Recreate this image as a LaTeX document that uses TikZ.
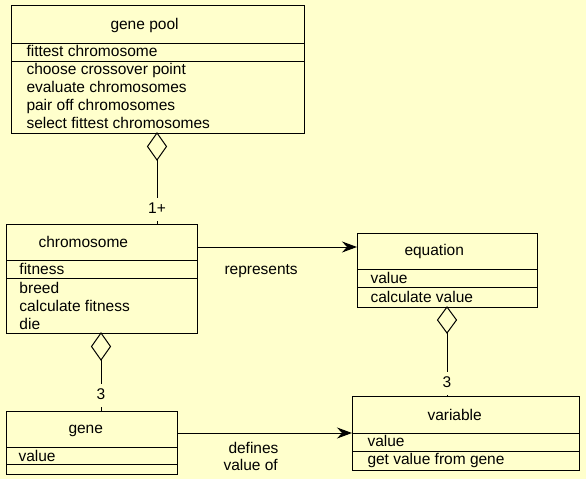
\documentclass[tikz,border=0pt]{standalone}
\usepackage{fontspec}
\setmainfont{Liberation Sans}
\usetikzlibrary{arrows.meta}
\definecolor{bg}{HTML}{FFFFCC}
\begin{document}
\begin{tikzpicture}[x=1pt,y=-1pt,line width=1pt,
  cls/.style={draw=black,inner sep=0pt,outer sep=0pt},
  txt/.style={anchor=base west,inner sep=0pt,font=\fontsize{15.5}{18}\selectfont},
  mult/.style={fill=bg,anchor=base,inner xsep=2pt,inner ysep=5pt,text height=10pt,text depth=3pt,font=\fontsize{15.5}{18}\selectfont},
  agg/.style={draw=black,fill=bg,line join=miter},
  assoc/.style={-{Stealth[length=15pt,width=11pt,inset=5pt]}}]
\useasboundingbox (0,0) rectangle (586,479);
\fill[bg] (0,0) rectangle (586,479);

% class boxes
\node[cls,minimum width=293pt,minimum height=128pt] (pool) at (157.5,69) {};
\node[cls,minimum width=191pt,minimum height=109pt] (chrom) at (101.5,278.5) {};
\node[cls,minimum width=180pt,minimum height=74pt] (eq) at (447,270) {};
\node[cls,minimum width=227pt,minimum height=74pt] (var) at (465.5,433) {};
\node[cls,minimum width=171pt,minimum height=63pt] (gene) at (91.5,442.5) {};

% dividers
\draw (pool.west |- 0,43) -- (pool.east |- 0,43);
\draw (pool.west |- 0,61) -- (pool.east |- 0,61);
\draw (chrom.west |- 0,260) -- (chrom.east |- 0,260);
\draw (chrom.west |- 0,278) -- (chrom.east |- 0,278);
\draw (eq.west |- 0,269) -- (eq.east |- 0,269);
\draw (eq.west |- 0,287) -- (eq.east |- 0,287);
\draw (var.west |- 0,433) -- (var.east |- 0,433);
\draw (var.west |- 0,451) -- (var.east |- 0,451);
\draw (gene.west |- 0,447) -- (gene.east |- 0,447);
\draw (gene.west |- 0,464) -- (gene.east |- 0,464);

% texts
\node[txt] (poolname) at (110,29) {gene pool};
\node[txt] (poola1) at (26,56) {fittest chromosome};
\node[txt] (poolo1) at (26,74) {choose crossover point};
\node[txt] (poolo2) at (26,92) {evaluate chromosomes};
\node[txt] (poolo3) at (26,110) {pair off chromosomes};
\node[txt] (poolo4) at (26,128) {select fittest chromosomes};

\node[txt] (chromname) at (38,247) {chromosome};
\node[txt] (chroma1) at (19,274) {fitness};
\node[txt] (chromo1) at (19,293) {breed};
\node[txt] (chromo2) at (19,311) {calculate fitness};
\node[txt] (chromo3) at (19,329) {die};

\node[txt] (eqname) at (404,255) {equation};
\node[txt] (eqa1) at (370,283) {value};
\node[txt] (eqo1) at (370,302) {calculate value};

\node[txt] (varname) at (427,420) {variable};
\node[txt] (vara1) at (367,446) {value};
\node[txt] (varo1) at (367,464) {get value from gene};

\node[txt] (genename) at (68,433) {gene};
\node[txt] (genea1) at (18,461) {value};

% aggregations
\coordinate (d1t) at (157,133);
\coordinate (d1b) at (157,160);
\draw (d1b) -- (d1b |- chrom.north);
\draw[agg] (d1t) -- (166.5,146.5) -- (d1b) -- (147.5,146.5) -- cycle;
\node[mult] (m1) at (157,213) {1+};

\coordinate (d2t) at (101,333);
\coordinate (d2b) at (101,360);
\draw (d2b) -- (d2b |- gene.north);
\draw[agg] (d2t) -- (110.5,346.5) -- (d2b) -- (91.5,346.5) -- cycle;
\node[mult] (m2) at (101,399) {3};

\coordinate (d3t) at (447,307);
\coordinate (d3b) at (447,333);
\draw (d3b) -- (d3b |- var.north);
\draw[agg] (d3t) -- (456.5,320) -- (d3b) -- (437.5,320) -- cycle;
\node[mult] (m3) at (447,387) {3};

% associations
\draw[assoc] (chrom.east |- 0,247) -- (eq.west |- 0,247);
\node[txt] (rep) at (224,274) {represents};
\draw[assoc] (gene.east |- 0,433) -- (var.west |- 0,433);
\node[txt] (def1) at (228,453) {defines};
\node[txt] (def2) at (223,470) {value of};
\end{tikzpicture}
\end{document}
